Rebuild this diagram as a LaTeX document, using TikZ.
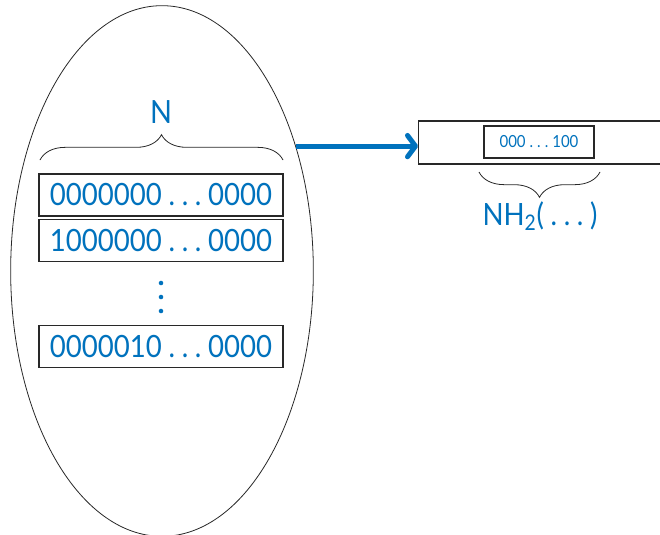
\documentclass[tikz,border=0pt]{standalone}
\usepackage{fontspec}
\setmainfont{Lato}
\newfontfamily\narrowfont[FakeStretch=0.9]{Lato}
\usetikzlibrary{shapes.geometric,decorations.pathreplacing,arrows.meta,calc}
\definecolor{codeblue}{RGB}{0,114,189}
\definecolor{framegray}{RGB}{40,40,40}
\newcommand{\gapdots}[1]{\hspace{#1}.\hspace{#1}.\hspace{#1}.\hspace{#1}}
\tikzset{
  bitrow/.style={draw=framegray,line width=0.9pt,minimum width=183pt,minimum height=31.5pt,
    inner sep=0pt,text=codeblue,font=\narrowfont\fontsize{23}{24}\selectfont},
  setshape/.style={draw=framegray,ellipse,line width=0.6pt,minimum width=227pt,minimum height=398pt,inner sep=0pt},
  bracedec/.style={decorate,decoration={brace,amplitude=19pt},draw=framegray,line width=0.6pt},
  bluelabel/.style={text=codeblue,inner sep=0pt},
  dotmark/.style={fill=codeblue,circle,inner sep=0pt,minimum size=3.4pt}
}
\begin{document}
\begin{tikzpicture}[x=0.75pt,y=-0.75pt]
\clip (0,0) rectangle (660,535);
\fill[white] (0,0) rectangle (660,535);
% the set of binary rows
\node[setshape] (set) at (162,271) {};
\node[bitrow] (r1) at (161,195) {0000000\gapdots{5pt}0000};
\node[bitrow] (r2) at (161,240.5) {1000000\gapdots{5pt}0000};
\node[dotmark] (d1) at (161,283) {};
\node[dotmark] (d2) at (161,297) {};
\node[dotmark] (d3) at (161,311) {};
\node[bitrow] (r3) at (161,346.5) {0000010\gapdots{5pt}0000};
\coordinate (bl) at (40,160);
\coordinate (br) at (283,160);
\draw[bracedec] (bl) -- (br);
\node[bluelabel,font=\narrowfont\fontsize{24}{24}\selectfont] (N) at (161,112) {N};
% the hashed output
\node[draw=framegray,line width=0.9pt,minimum width=200pt,minimum height=32.25pt,inner sep=0pt,anchor=west] (out) at (418,142.5) {};
\node[draw=framegray,line width=0.9pt,minimum width=82.5pt,minimum height=24pt,inner sep=0pt,
  text=codeblue,font=\narrowfont\fontsize{12.5}{14}\selectfont] (h) at (539,142) {000\gapdots{3pt}100};
\coordinate (hl) at (479,172);
\coordinate (hr) at (600,172);
\draw[bracedec,decoration={mirror,amplitude=19pt}] (hl) -- (hr);
\node[bluelabel,font=\narrowfont\fontsize{23}{24}\selectfont] (nh) at (540,216) {NH\textsubscript{2}(\gapdots{5pt})};
% mapping arrow
\draw[codeblue,line width=3.75pt,-{Straight Barb[length=6pt,width=16pt,round]}] (set.43.5) -- (set.43.5 -| out.west);
\end{tikzpicture}
\end{document}
